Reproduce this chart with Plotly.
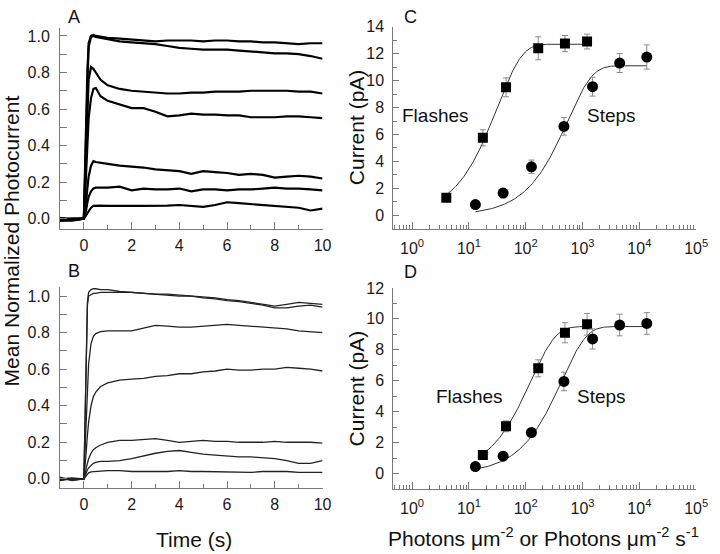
import plotly.graph_objects as go
import numpy as np

W, H = 720, 554

# ---------------- Panel A / B: time courses ----------------
time_s = [-1, -0.5, 0, 0.05, 0.1, 0.15, 0.2, 0.3, 0.4, 0.5, 0.7, 1, 1.5, 2, 2.5, 3, 3.5, 4,
          4.5, 5, 5.5, 6, 6.5, 7, 7.5, 8, 8.5, 9, 9.5, 10]

A1 = [0.005, -0.005, 0.0, 0.25, 0.6, 0.85, 0.96, 1.0, 1.005, 1.0, 0.995, 0.99, 0.985, 0.98, 0.975, 0.97,
      0.975, 0.975, 0.975, 0.97, 0.975, 0.975, 0.97, 0.97, 0.965, 0.965, 0.96, 0.955, 0.96, 0.96]
A2 = [-0.01, -0.01, 0.0, 0.22, 0.55, 0.82, 0.94, 0.995, 1.0, 0.995, 0.99, 0.98, 0.97, 0.965, 0.96, 0.955,
      0.945, 0.935, 0.93, 0.925, 0.925, 0.925, 0.92, 0.915, 0.91, 0.905, 0.905, 0.90, 0.89, 0.875]
A3 = [0.0, -0.005, 0.0, 0.2, 0.45, 0.65, 0.76, 0.83, 0.82, 0.80, 0.76, 0.73, 0.71, 0.70, 0.695, 0.69,
      0.685, 0.685, 0.69, 0.69, 0.695, 0.695, 0.695, 0.70, 0.70, 0.70, 0.70, 0.695, 0.695, 0.685]
A4 = [-0.01, -0.005, 0.0, 0.12, 0.3, 0.45, 0.55, 0.66, 0.71, 0.715, 0.67, 0.645, 0.625, 0.605, 0.605, 0.585,
      0.56, 0.565, 0.575, 0.57, 0.57, 0.565, 0.565, 0.555, 0.555, 0.555, 0.56, 0.56, 0.555, 0.55]
A5 = [0.0, -0.005, 0.0, 0.04, 0.1, 0.17, 0.23, 0.29, 0.315, 0.31, 0.305, 0.30, 0.29, 0.285, 0.28, 0.27,
      0.265, 0.26, 0.245, 0.26, 0.255, 0.25, 0.24, 0.245, 0.24, 0.225, 0.23, 0.235, 0.23, 0.22]
A6 = [-0.005, 0.0, 0.0, 0.02, 0.05, 0.09, 0.12, 0.15, 0.165, 0.17, 0.17, 0.17, 0.175, 0.155, 0.165, 0.16,
      0.16, 0.165, 0.15, 0.16, 0.16, 0.155, 0.16, 0.16, 0.165, 0.17, 0.165, 0.165, 0.16, 0.155]
A7 = [0.0, 0.0, 0.0, 0.01, 0.02, 0.035, 0.045, 0.06, 0.07, 0.072, 0.072, 0.07, 0.072, 0.07, 0.07, 0.07,
      0.072, 0.075, 0.068, 0.065, 0.075, 0.09, 0.085, 0.08, 0.075, 0.07, 0.065, 0.06, 0.045, 0.055]

B1 = [0.01, -0.01, 0.0, 0.35, 0.8, 0.97, 1.02, 1.035, 1.04, 1.04, 1.035, 1.035, 1.025, 1.02, 1.015, 1.01,
      1.01, 1.005, 1.0, 0.995, 0.99, 0.98, 0.975, 0.965, 0.955, 0.945, 0.955, 0.965, 0.96, 0.955]
B2 = [-0.01, 0.0, 0.0, 0.3, 0.75, 0.95, 1.0, 1.01, 1.015, 1.015, 1.02, 1.02, 1.02, 1.02, 1.015, 1.01,
      1.005, 1.0, 1.0, 0.99, 0.985, 0.975, 0.97, 0.96, 0.95, 0.935, 0.935, 0.945, 0.95, 0.94]
B3 = [0.0, 0.005, 0.0, 0.15, 0.35, 0.52, 0.63, 0.74, 0.78, 0.795, 0.805, 0.81, 0.81, 0.81, 0.825, 0.84,
      0.835, 0.83, 0.83, 0.835, 0.84, 0.845, 0.84, 0.835, 0.83, 0.825, 0.82, 0.81, 0.805, 0.80]
B4 = [-0.005, 0.0, 0.0, 0.06, 0.15, 0.24, 0.31, 0.40, 0.45, 0.475, 0.505, 0.525, 0.54, 0.545, 0.55, 0.56,
      0.565, 0.575, 0.575, 0.585, 0.59, 0.6, 0.595, 0.595, 0.6, 0.6, 0.61, 0.605, 0.6, 0.59]
B5 = [0.0, -0.005, 0.0, 0.02, 0.06, 0.09, 0.11, 0.14, 0.16, 0.17, 0.185, 0.2, 0.21, 0.21, 0.215, 0.22,
      0.21, 0.2, 0.205, 0.21, 0.205, 0.205, 0.2, 0.2, 0.2, 0.205, 0.2, 0.2, 0.2, 0.195]
B6 = [0.0, 0.0, 0.0, 0.015, 0.035, 0.05, 0.06, 0.075, 0.085, 0.09, 0.095, 0.095, 0.10, 0.11, 0.125, 0.14,
      0.15, 0.155, 0.145, 0.135, 0.13, 0.125, 0.12, 0.12, 0.115, 0.11, 0.1, 0.085, 0.085, 0.1]
B7 = [0.005, -0.005, 0.0, 0.01, 0.02, 0.028, 0.033, 0.038, 0.04, 0.04, 0.042, 0.045, 0.045, 0.04, 0.04, 0.04,
      0.04, 0.045, 0.04, 0.04, 0.038, 0.035, 0.035, 0.035, 0.04, 0.04, 0.04, 0.035, 0.035, 0.035]

traces_A = [A1, A2, A3, A4, A5, A6, A7]
traces_B = [B1, B2, B3, B4, B5, B6, B7]

# ---------------- Panel C / D: intensity-response ----------------
C_flash_x = [4, 17.6, 45, 166, 490, 1200]
C_flash_y = [1.3, 5.75, 9.5, 12.4, 12.75, 12.9]
C_flash_err = [0.2, 0.6, 0.7, 0.85, 0.6, 0.55]
C_step_x = [13, 40, 126, 470, 1500, 4500, 13500]
C_step_y = [0.8, 1.65, 3.6, 6.6, 9.55, 11.3, 11.75]
C_step_err = [0.15, 0.35, 0.5, 0.65, 0.7, 0.7, 0.9]

D_flash_x = [17.6, 45, 166, 490, 1200]
D_flash_y = [1.2, 3.05, 6.8, 9.1, 9.65]
D_flash_err = [0.15, 0.35, 0.55, 0.65, 0.7]
D_step_x = [13, 40, 126, 470, 1500, 4500, 13500]
D_step_y = [0.45, 1.12, 2.65, 5.95, 8.7, 9.6, 9.7]
D_step_err = [0.1, 0.15, 0.2, 0.6, 0.65, 0.7, 0.7]

# fit parameters (max current, half-saturating intensity, curve extent)
C_flash_fit = dict(imax=12.7, half=22, lo=4, hi=1200)
C_step_fit = dict(imax=11.1, half=380, lo=13, hi=13500)
D_flash_fit = dict(imax=9.5, half=86, lo=17.6, hi=1200)
D_step_fit = dict(imax=9.5, half=300, lo=13, hi=13500)

log_tick_vals = [1, 10, 100, 1000, 10000, 100000]
log_tick_text = ["10<sup>0</sup>", "10<sup>1</sup>", "10<sup>2</sup>", "10<sup>3</sup>",
                 "10<sup>4</sup>", "10<sup>5</sup>"]


def fit_curve(p):
    xs = np.logspace(np.log10(p["lo"]), np.log10(p["hi"]), 200)
    ys = p["imax"] * (1 - np.exp(-np.log(2) * xs / p["half"]))
    return xs, ys


def px_x(p):
    return p / W


def px_y(p):
    return 1 - p / H


fig = go.Figure()

for tr in traces_A:
    fig.add_trace(go.Scatter(x=time_s, y=tr, mode="lines", line=dict(color="black", width=2.2),
                             xaxis="x", yaxis="y", showlegend=False))
for tr in traces_B:
    fig.add_trace(go.Scatter(x=time_s, y=tr, mode="lines", line=dict(color="#222222", width=1.3),
                             xaxis="x2", yaxis="y2", showlegend=False))

for ax, fits, pts in [
    ("3", [C_flash_fit, C_step_fit],
     [(C_flash_x, C_flash_y, C_flash_err, "square"), (C_step_x, C_step_y, C_step_err, "circle")]),
    ("4", [D_flash_fit, D_step_fit],
     [(D_flash_x, D_flash_y, D_flash_err, "square"), (D_step_x, D_step_y, D_step_err, "circle")]),
]:
    for f in fits:
        xs, ys = fit_curve(f)
        fig.add_trace(go.Scatter(x=xs, y=ys, mode="lines", line=dict(color="#333333", width=1),
                                 xaxis="x" + ax, yaxis="y" + ax, showlegend=False))
    for xs, ys, es, sym in pts:
        fig.add_trace(go.Scatter(
            x=xs, y=ys, mode="markers",
            marker=dict(symbol=sym, size=10 if sym == "square" else 11, color="black"),
            error_y=dict(type="data", array=es, color="#8a8a8a", thickness=1, width=3),
            xaxis="x" + ax, yaxis="y" + ax, showlegend=False))

axis_col = "#7a7a7a"
tick_font = dict(family="Liberation Sans, Arial", size=16, color="#1a1a1a")

common = dict(showline=True, linecolor=axis_col, linewidth=1, ticks="inside", tickcolor=axis_col,
              showgrid=False, zeroline=False, tickfont=tick_font, fixedrange=True)

time_x = dict(common, range=[-1, 10], tickvals=[0, 2, 4, 6, 8, 10], ticklen=7,
              minor=dict(tickvals=[1, 3, 5, 7, 9], ticks="inside", ticklen=4, tickcolor=axis_col),
              ticklabelstandoff=2)
time_y = dict(common, tickvals=[0, 0.2, 0.4, 0.6, 0.8, 1.0], ticktext=["0.0", "0.2", "0.4", "0.6", "0.8", "1.0"],
              ticklen=7, minor=dict(tickvals=[0.1, 0.3, 0.5, 0.7, 0.9], ticks="inside", ticklen=7,
                                    tickcolor=axis_col),
              ticklabelstandoff=6)

minor_log = [k * 10 ** n for n in range(-1, 5) for k in range(2, 10) if 10 ** -0.33 <= k * 10 ** n <= 1e5]
log_x = dict(common, type="log", range=[-0.33, 5], tickvals=log_tick_vals, ticktext=log_tick_text, ticklen=7,
             minor=dict(tickvals=minor_log, ticks="inside", ticklen=4, tickcolor=axis_col),
             ticklabelstandoff=5)

fig.update_layout(
    width=W, height=H, margin=dict(l=0, r=0, t=0, b=0),
    paper_bgcolor="white", plot_bgcolor="white",
    font=dict(family="Liberation Sans, Arial", color="#1a1a1a"),
    xaxis=dict(time_x, domain=[px_x(61), px_x(328)], anchor="y"),
    yaxis=dict(time_y, range=[-0.055, 1.045], domain=[px_y(224), px_y(20)], anchor="x"),
    xaxis2=dict(time_x, domain=[px_x(61), px_x(328)], anchor="y2"),
    yaxis2=dict(time_y, range=[-0.05, 1.05], domain=[px_y(487), px_y(283)], anchor="x2"),
    xaxis3=dict(log_x, domain=[px_x(400), px_x(708)], anchor="y3"),
    yaxis3=dict(common, range=[-1, 14], tickvals=[0, 2, 4, 6, 8, 10, 12, 14], ticklen=6,
                minor=dict(tickvals=[-1, 1, 3, 5, 7, 9, 11, 13], ticks="inside", ticklen=4, tickcolor=axis_col),
                domain=[px_y(224), px_y(19)], anchor="x3", ticklabelstandoff=5),
    xaxis4=dict(log_x, domain=[px_x(400), px_x(708)], anchor="y4"),
    yaxis4=dict(common, range=[-1, 12], tickvals=[0, 2, 4, 6, 8, 10, 12], ticklen=6,
                minor=dict(tickvals=[-1, 1, 3, 5, 7, 9, 11], ticks="inside", ticklen=4, tickcolor=axis_col),
                domain=[px_y(488), px_y(284)], anchor="x4", ticklabelstandoff=5),
)

def ann(text, x, y, size, angle=0):
    fig.add_annotation(text=text, x=px_x(x), y=px_y(y), xref="paper", yref="paper",
                       showarrow=False, textangle=angle, xanchor="center", yanchor="middle",
                       font=dict(family="Liberation Sans, Arial", size=size, color="#111111"))

ann("A", 75, 9, 18)
ann("B", 75, 267, 18)
ann("C", 417, 9, 18)
ann("D", 417, 268, 18)
ann("Mean Normalized Photocurrent", 12, 236, 21, -90)
ann("Current (pA)", 362, 121, 21, -90)
ann("Current (pA)", 362, 386, 21, -90)
ann("Time (s)", 197, 539, 21)
ann("Photons μm<sup>-2</sup> or Photons μm<sup>-2</sup> s<sup>-1</sup>", 553, 537, 21)
ann("Flashes", 443, 109, 19)
ann("Steps", 622, 109, 19)
ann("Flashes", 477, 394, 19)
ann("Steps", 612, 394, 19)

fig.write_html("out.html", config={"displayModeBar": False},
               post_script="document.body.style.margin='0px';document.body.style.overflow='hidden';")
